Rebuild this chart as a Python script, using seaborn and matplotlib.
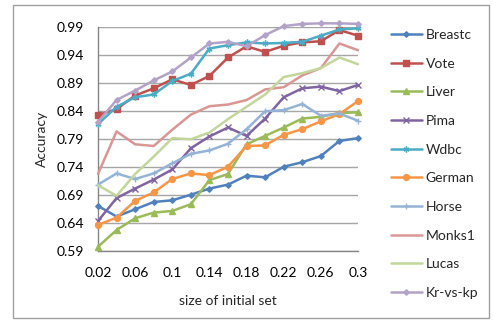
import matplotlib
matplotlib.use("Agg")
import matplotlib.pyplot as plt
from matplotlib.patches import Rectangle
from matplotlib.ticker import FixedLocator, FuncFormatter
import seaborn as sns
import pandas as pd

sizes = [0.02, 0.04, 0.06, 0.08, 0.10, 0.12, 0.14, 0.16, 0.18, 0.20, 0.22, 0.24, 0.26, 0.28, 0.30]

breastc = [0.670, 0.651, 0.664, 0.677, 0.680, 0.690, 0.701, 0.708, 0.724, 0.721, 0.740, 0.748, 0.759, 0.786, 0.791]
vote    = [0.832, 0.843, 0.867, 0.880, 0.896, 0.886, 0.902, 0.935, 0.955, 0.945, 0.956, 0.962, 0.964, 0.984, 0.974]
liver   = [0.597, 0.627, 0.648, 0.658, 0.661, 0.673, 0.716, 0.727, 0.780, 0.795, 0.810, 0.826, 0.829, 0.836, 0.837]
pima    = [0.643, 0.684, 0.701, 0.717, 0.735, 0.773, 0.794, 0.810, 0.795, 0.826, 0.864, 0.880, 0.883, 0.875, 0.886]
wdbc    = [0.816, 0.847, 0.864, 0.869, 0.893, 0.906, 0.951, 0.957, 0.962, 0.960, 0.961, 0.963, 0.974, 0.985, 0.987]
german  = [0.636, 0.649, 0.679, 0.694, 0.718, 0.728, 0.725, 0.740, 0.777, 0.778, 0.797, 0.807, 0.821, 0.834, 0.857]
horse   = [0.708, 0.728, 0.718, 0.728, 0.746, 0.763, 0.769, 0.781, 0.807, 0.839, 0.841, 0.852, 0.831, 0.835, 0.822]
monks1  = [0.727, 0.803, 0.780, 0.777, 0.806, 0.833, 0.848, 0.851, 0.859, 0.878, 0.882, 0.903, 0.916, 0.960, 0.948]
lucas   = [0.707, 0.688, 0.727, 0.758, 0.791, 0.789, 0.801, 0.825, 0.847, 0.869, 0.900, 0.907, 0.916, 0.935, 0.923]
krvskp  = [0.820, 0.859, 0.876, 0.894, 0.910, 0.935, 0.960, 0.963, 0.955, 0.975, 0.991, 0.995, 0.996, 0.996, 0.995]

names = ["Breastc", "Vote", "Liver", "Pima", "Wdbc", "German", "Horse", "Monks1", "Lucas", "Kr-vs-kp"]
series = [breastc, vote, liver, pima, wdbc, german, horse, monks1, lucas, krvskp]
colors = ["#4F81BD", "#C0504D", "#9BBB59", "#8064A2", "#4BACC6", "#F79646",
          "#95B3D7", "#D99694", "#C3D69B", "#B3A2C7"]
markers = ["D", "s", "^", "x", (6, 2, 0), "o", "+", None, None, "D"]
msizes = [2.8, 4.2, 4.2, 3.8, 4.2, 4.2, 4.2, 0, 0, 2.8]

x_ticks = [0.02, 0.06, 0.10, 0.14, 0.18, 0.22, 0.26, 0.30]
y_ticks = [0.59, 0.64, 0.69, 0.74, 0.79, 0.84, 0.89, 0.94, 0.99]

sns.set_theme(style="white")
plt.rcParams["font.family"] = ["Lato", "DejaVu Sans"]

fig = plt.figure(figsize=(4.93, 3.24), dpi=100)
ax = fig.add_axes([98 / 493, (324 - 250.7) / 324, 260 / 493, 224 / 324])

for name, vals, c, m, ms in zip(names, series, colors, markers, msizes):
    df = pd.DataFrame({"size": sizes, "acc": vals})
    kw = {}
    if m is not None:
        kw = dict(marker=m, markersize=ms, markeredgecolor=c, markerfacecolor=c, markeredgewidth=1.0)
    sns.lineplot(data=df, x="size", y="acc", ax=ax, color=c, linewidth=1.8,
                 label=name, clip_on=False, zorder=3, **kw)

ax.set_xlim(0.02, 0.30)
ax.set_ylim(0.59, 0.99)
ax.xaxis.set_major_locator(FixedLocator(x_ticks))
ax.yaxis.set_major_locator(FixedLocator(y_ticks))
ax.xaxis.set_major_formatter(FuncFormatter(lambda v, p: f"{v:g}"))
ax.yaxis.set_major_formatter(FuncFormatter(lambda v, p: f"{v:.2f}"))
ax.grid(axis="y", color="#A6A6A6", linewidth=1.0)
ax.grid(axis="x", visible=False)
ax.set_axisbelow(True)
for s in ["top", "right"]:
    ax.spines[s].set_visible(False)
for s in ["left", "bottom"]:
    ax.spines[s].set_color("#868686")
    ax.spines[s].set_linewidth(1.0)
ax.tick_params(axis="x", direction="out", length=5, width=1, color="#868686",
               labelsize=10, pad=7, labelcolor="#000000")
ax.tick_params(axis="y", direction="out", length=4, width=1, color="#868686",
               labelsize=10, pad=6, labelcolor="#000000")
ax.set_xlabel("size of initial set", fontsize=10, labelpad=11)
ax.set_ylabel("Accuracy", fontsize=10, labelpad=6)

ax.legend(loc="upper left", bbox_to_anchor=(391 / 493, 1 - 29 / 324),
          bbox_transform=fig.transFigure, frameon=False, fontsize=10,
          handlelength=2.2, handletextpad=0.3, labelspacing=1.2,
          borderaxespad=0, borderpad=0)

fig.patches.append(Rectangle((13 / 493, 6 / 324), 476 / 493, 313 / 324,
                             transform=fig.transFigure, fill=False,
                             edgecolor="#A0A0A0", linewidth=1.0))

fig.savefig("out.png", dpi=100)
